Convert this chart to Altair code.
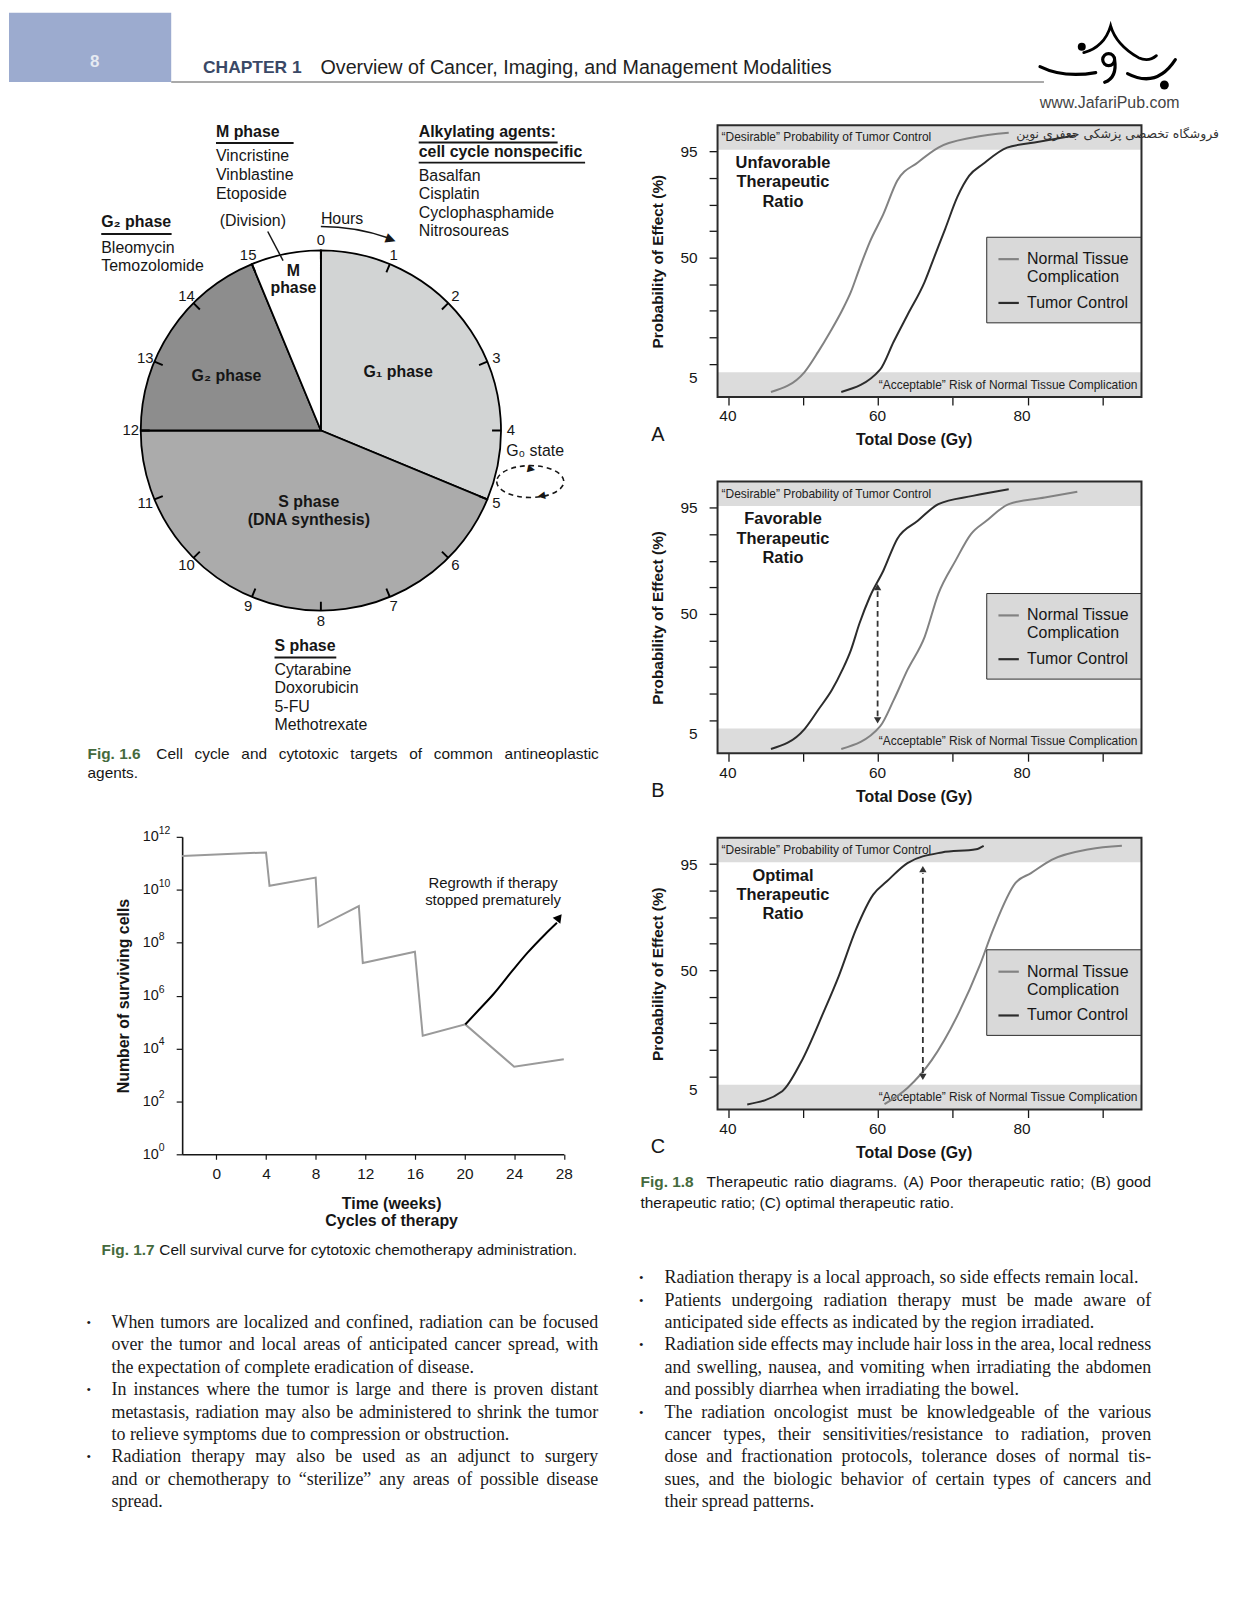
import math
import altair as alt
import pandas as pd

SANS = "Liberation Sans"
SERIF = "Liberation Serif"
INK = "#161616"
GREEN = "#456a3d"

# ------------------------------------------------------------------ data
# Fig 1.6 cell cycle (hours of a 16 h cycle)
phase_names = ["G₁ phase", "S phase", "G₂ phase", "M phase"]
phase_start = [0, 5, 12, 15]
phase_end = [5, 12, 15, 16]
hour_marks = list(range(16))
m_drugs = ["Vincristine", "Vinblastine", "Etoposide"]
alk_drugs = ["Basalfan", "Cisplatin", "Cyclophasphamide", "Nitrosoureas"]
g2_drugs = ["Bleomycin", "Temozolomide"]
s_drugs = ["Cytarabine", "Doxorubicin", "5-FU", "Methotrexate"]

# Fig 1.7 cell survival (weeks, log10 of surviving cells)
week_pts = [-2.76, 4.0, 4.28, 8.0, 8.22, 11.48, 11.8, 16.0, 16.63, 20.06, 24.0, 28.0]
log_cells = [11.28, 11.41, 10.15, 10.46, 8.6, 9.38, 7.23, 7.66, 4.48, 4.91, 3.31, 3.59]
regrow_weeks = [20.06, 21.24, 22.34, 23.86, 25.1, 26.48, 27.45]
regrow_log = [4.91, 5.5, 6.06, 6.94, 7.63, 8.31, 8.75]
week_ticks = [0, 4, 8, 12, 16, 20, 24, 28]
decade_ticks = [0, 2, 4, 6, 8, 10, 12]

# Fig 1.8 therapeutic ratio (dose in Gy, effect level on the probit-like axis: 9 = 95 %, 5 = 50 %, 0.5 = 5 %)
dose_ticks = [40, 50, 60, 70, 80, 90]
level_ticks = [0.5, 1, 2, 3, 4, 5, 6, 7, 8, 9]
series_names = ["Normal Tissue Complication", "Tumor Control"]

a_normal_dose = [45.69, 50.18, 52.02, 53.62, 55.23, 56.38, 57.52, 58.90, 60.73, 62.57, 65.32, 68.07, 72.66, 77.48]
a_normal_lvl = [-0.06, 0.69, 1.46, 2.21, 3.03, 3.71, 4.59, 5.59, 6.65, 7.9, 8.59, 9.15, 9.53, 9.71]
a_tumor_dose = [55.09, 60.28, 62.11, 63.94, 66.24, 67.61, 68.99, 70.60, 72.20, 74.04, 77.25, 80.92, 86.42]
a_tumor_lvl = [-0.06, 0.78, 1.84, 2.84, 4.09, 5.09, 6.09, 7.28, 8.09, 8.53, 9.15, 9.34, 9.61]

b_tumor_dose = [45.69, 50.18, 52.02, 53.85, 55.23, 56.38, 57.52, 58.90, 60.73, 62.57, 65.32, 68.07, 72.66, 77.48]
b_tumor_lvl = [-0.09, 0.66, 1.39, 2.14, 2.89, 3.64, 4.64, 5.64, 6.64, 7.83, 8.51, 9.14, 9.45, 9.7]
b_normal_dose = [55.09, 60.28, 62.11, 63.94, 66.24, 68.07, 70.37, 72.43, 74.50, 77.48, 82.29, 86.65]
b_normal_lvl = [-0.09, 0.76, 1.76, 2.89, 4.14, 5.76, 7.01, 8.01, 8.51, 9.14, 9.39, 9.61]
b_arrow = [59.95, 0.99, 6.01]

c_tumor_dose = [42.52, 47.20, 49.72, 52.71, 54.77, 57.06, 59.36, 61.19, 63.94, 68.53, 73.12, 74.13]
c_tumor_lvl = [-0.06, 0.44, 1.54, 3.41, 4.79, 6.54, 7.85, 8.35, 9.04, 9.44, 9.56, 9.69]
c_normal_dose = [60.87, 63.94, 67.16, 70.83, 73.58, 75.41, 78.39, 80.46, 83.21, 88.26, 92.61]
c_normal_lvl = [-0.05, 0.56, 1.6, 3.41, 5.16, 6.54, 8.29, 8.66, 9.16, 9.56, 9.69]
c_arrow = [66.0, 0.98, 8.81]

band_lo = [9.07, -0.25]
band_hi = [9.99, 0.68]

# body text (text, bullet?, justified?)
left_lines = [
    ("When tumors are localized and confined, radiation can be focused", True, True),
    ("over the tumor and local areas of anticipated cancer spread, with", False, True),
    ("the expectation of complete eradication of disease.", False, False),
    ("In instances where the tumor is large and there is proven distant", True, True),
    ("metastasis, radiation may also be administered to shrink the tumor", False, True),
    ("to relieve symptoms due to compression or obstruction.", False, False),
    ("Radiation therapy may also be used as an adjunct to surgery", True, True),
    ("and or chemotherapy to “sterilize” any areas of possible disease", False, True),
    ("spread.", False, False),
]
right_lines = [
    ("Radiation therapy is a local approach, so side effects remain local.", True, False),
    ("Patients undergoing radiation therapy must be made aware of", True, True),
    ("anticipated side effects as indicated by the region irradiated.", False, False),
    ("Radiation side effects may include hair loss in the area, local redness", True, True),
    ("and swelling, nausea, and vomiting when irradiating the abdomen", False, True),
    ("and possibly diarrhea when irradiating the bowel.", False, False),
    ("The radiation oncologist must be knowledgeable of the various", True, True),
    ("cancer types, their sensitivities/resistance to radiation, proven", False, True),
    ("dose and fractionation protocols, tolerance doses of normal tis-", False, True),
    ("sues, and the biologic behavior of certain types of cancers and", False, True),
    ("their spread patterns.", False, False),
]

# ------------------------------------------------------------------ helpers
ONE = pd.DataFrame({"k": [0]})

ARIAL = dict(zip(" abcdefghijklmnopqrstuvwxyz", [278, 556, 556, 500, 556, 556, 278, 556, 556, 222, 222, 500, 222, 833,
                                                  556, 556, 556, 556, 333, 500, 278, 556, 500, 722, 500, 500, 500]))
ARIAL.update(dict(zip("ABCDEFGHIJKLMNOPQRSTUVWXYZ", [667, 667, 722, 722, 667, 611, 778, 722, 278, 500, 667, 556, 833,
                                                       722, 778, 667, 778, 722, 667, 611, 722, 667, 944, 667, 667, 611])))
ARIAL.update({c: 556 for c in "0123456789"})
ARIAL.update({".": 278, ",": 278, ";": 278, ":": 278, "(": 333, ")": 333, "-": 333, "/": 278, "“": 333, "”": 333})
TIMES = dict(zip(" abcdefghijklmnopqrstuvwxyz", [250, 444, 500, 444, 500, 444, 333, 500, 500, 278, 278, 500, 278, 778,
                                                  500, 500, 500, 500, 333, 389, 278, 500, 500, 722, 500, 500, 444]))
TIMES.update(dict(zip("ABCDEFGHIJKLMNOPQRSTUVWXYZ", [722, 667, 667, 722, 611, 556, 722, 722, 333, 389, 722, 611, 889,
                                                       722, 722, 556, 722, 667, 556, 611, 722, 722, 944, 722, 722, 611])))
TIMES.update({c: 500 for c in "0123456789"})
TIMES.update({".": 250, ",": 250, ";": 278, ":": 278, "(": 333, ")": 333, "-": 333, "/": 278, "“": 444, "”": 444})


def txt(s, x, y, size=16, weight="normal", align="left", color=INK, font=SANS, angle=None, lh=None):
    props = dict(text=s, align=align, baseline="middle", fontSize=size, fontWeight=weight, color=color, font=font)
    if angle is not None:
        props["angle"] = angle
    if lh is not None:
        props["lineHeight"] = lh
    return alt.Chart(ONE).mark_text(**props).encode(x=alt.value(x), y=alt.value(y))


def seg(x1, y1, x2, y2, w=1.5, color=INK):
    return alt.Chart(ONE).mark_rule(color=color, strokeWidth=w).encode(
        x=alt.value(x1), y=alt.value(y1), x2=alt.value(x2), y2=alt.value(y2))


def pin(x1, x2, y1, y2):
    # invisible frame that fixes the bounding box of a cell of the page
    return alt.Chart(ONE).mark_rect(opacity=0).encode(
        x=alt.value(x1), x2=alt.value(x2), y=alt.value(y1), y2=alt.value(y2))


def glyph(path, x, y, size, width=2.6, filled=False):
    if filled:
        return alt.Chart(ONE).mark_point(shape=path, size=size, filled=True, color="black", opacity=1).encode(
            x=alt.value(x), y=alt.value(y))
    return alt.Chart(ONE).mark_point(shape=path, size=size, filled=False, color="black", opacity=1,
                                     strokeWidth=width, strokeCap="round").encode(x=alt.value(x), y=alt.value(y))


def words_table(lines, x0, x1, ys, size, widths, bullet_x=None, bullet_size=12):
    rows = []
    sp = widths[" "] * size / 1000.0
    for (text, bullet, just), y in zip(lines, ys):
        if bullet and bullet_x is not None:
            rows.append({"w": "•", "px": bullet_x, "py": y, "fs": bullet_size, "al": "left"})
        words = text.split(" ")
        if just and len(words) > 1:
            n = len(words)
            ws = [sum(widths.get(c, 520) for c in w) * size / 1000.0 for w in words]
            avail = x1 - x0
            fs = size
            gap = (avail - sum(ws)) / (n - 1)
            if gap < 0.6 * sp:
                k = (avail - 0.6 * sp * (n - 1)) / sum(ws)
                fs = size * k
                ws = [v * k for v in ws]
                gap = 0.6 * sp
            x = x0
            for i, (w, wd) in enumerate(zip(words, ws)):
                if i == n - 1:
                    rows.append({"w": w, "px": x1, "py": y, "fs": fs, "al": "right"})
                else:
                    rows.append({"w": w, "px": x, "py": y, "fs": fs, "al": "left"})
                x += wd + gap
        else:
            rows.append({"w": text, "px": x0, "py": y, "fs": size, "al": "left"})
    return pd.DataFrame(rows)


def words_layers(df, font, color=INK):
    out = []
    for al in ["left", "right"]:
        sub = df[df["al"] == al]
        if len(sub):
            out.append(alt.Chart(sub).mark_text(align=al, baseline="middle", font=font, color=color).encode(
                x=alt.X("px:Q", scale=None, axis=None),
                y=alt.Y("py:Q", scale=None, axis=None),
                text="w:N",
                size=alt.Size("fs:Q", scale=None, legend=None)))
    return out


# ------------------------------------------------------------------ header (page y 12 .. 122)
LOGO_ARCH = "M -0.625 -0.125 C -0.3 -0.2 -0.05 -0.45 0.05 -0.8 C 0.15 -0.45 0.4 -0.2 0.75 0 Q 1.0 0.12 1.2 -0.05"
LOGO_LOW = ("M -1.725 0.225 Q -1.125 0.52 -0.325 0.375 "
            "M 0.475 0.4 Q 1.2 0.78 1.675 0.05 "
            "M -0.15 0.05 A 0.15 0.15 0 1 0 0.15 0.05 A 0.15 0.15 0 1 0 -0.15 0.05 "
            "M 0.15 0.05 Q 0.22 0.5 -0.1 0.62")

header = alt.layer(
    pin(0, 1234, 0, 110),
    alt.Chart(ONE).mark_rect(color="#9cabcf").encode(
        x=alt.value(0), x2=alt.value(163), y=alt.value(0), y2=alt.value(69.6)),
    txt("8", 86, 49.5, size=17, weight="bold", align="center", color="#e6eaf2"),
    txt("CHAPTER 1", 195, 55.3, size=17.5, weight="bold", color="#3a4866"),
    txt("Overview of Cancer, Imaging, and Management Modalities", 313, 55.3, size=19.8, color="#1e1e1e"),
    seg(163, 69.6, 1040, 69.6, w=1.5, color="#8c8c8c"),
    glyph(LOGO_ARCH, 1105, 45, 6400, width=2.8),
    glyph(LOGO_LOW, 1105, 45, 6400, width=3.2),
    glyph("circle", 1078, 34, 64, filled=True),
    glyph("circle", 1161, 72.5, 79, filled=True),
    txt("www.JafariPub.com", 1106, 91, size=16, align="center", color="#444444"),
).properties(width=1234, height=110)

# ------------------------------------------------------------------ Fig 1.6 pie (view origin page (8, 122))
CX, CY, R = 313.4, 306.7, 181
hour_scale = alt.Scale(domain=[0, 16], range=[0, 2 * math.pi])
phase_df = pd.DataFrame({"phase": phase_names, "start": phase_start, "end": phase_end})
hour_df = pd.DataFrame({"h": hour_marks})

arcs = alt.Chart(phase_df).mark_arc(stroke="black", strokeWidth=1.8).encode(
    theta=alt.Theta("start:Q", scale=hour_scale, stack=False),
    theta2="end:Q",
    fill=alt.Fill("phase:N", scale=alt.Scale(domain=phase_names,
                                             range=["#d2d4d4", "#ababab", "#8d8d8d", "#ffffff"]), legend=None),
    x=alt.value(CX), y=alt.value(CY), radius=alt.value(R))

ticks = alt.Chart(hour_df).transform_calculate(a="datum.h - 0.014", b="datum.h + 0.014").mark_arc(
    color="black").encode(
    theta=alt.Theta("a:Q", scale=hour_scale, stack=False), theta2="b:Q",
    x=alt.value(CX), y=alt.value(CY), radius=alt.value(R), radius2=alt.value(R - 9))

hour_lbl = alt.Chart(hour_df).mark_text(fontSize=15, font=SANS, color=INK, baseline="middle",
                                        align="center").encode(
    theta=alt.Theta("h:Q", scale=hour_scale, stack=False), radius=alt.value(191),
    text=alt.Text("h:Q", format="d"), x=alt.value(CX), y=alt.value(CY))

hours_arc = alt.Chart(pd.DataFrame({"a": [0.0], "b": [0.86]})).mark_arc(color=INK).encode(
    theta=alt.Theta("a:Q", scale=hour_scale, stack=False), theta2="b:Q",
    x=alt.value(CX), y=alt.value(CY), radius=alt.value(205.8), radius2=alt.value(204.3))
hours_head = alt.Chart(pd.DataFrame({"h": [0.9]})).mark_text(
    text="▶", fontSize=13, angle=20, color=INK, align="center", baseline="middle").encode(
    theta=alt.Theta("h:Q", scale=hour_scale, stack=False), radius=alt.value(205),
    x=alt.value(CX), y=alt.value(CY))

g0_loop = alt.Chart(ONE).mark_point(
    shape="M -1 0 A 1 0.475 0 1 0 1 0 A 1 0.475 0 1 0 -1 0 Z", size=4543, filled=False,
    strokeDash=[5, 4], strokeWidth=1.6, color=INK, opacity=1).encode(x=alt.value(523.8), y=alt.value(358))

pie_layers = [pin(0, 615, 0, 668), g0_loop, arcs, ticks, hour_lbl, hours_arc, hours_head,
              txt("▶", 521, 344.5, size=10, angle=12),
              txt("◀", 531, 372.5, size=10, angle=350)]

pie_layers += [txt("M phase", 208, 6.7, weight="bold"), seg(208, 17.7, 286, 17.7, w=2)]
pie_layers += [txt(d, 208, y) for d, y in zip(m_drugs, [31, 50, 68.7])]
pie_layers += [txt("(Division)", 211.7, 96), seg(260, 106.7, 275.4, 136, w=1.5),
               txt("Hours", 313.4, 94.3)]
pie_layers += [txt("Alkylating agents:", 411.7, 6.5, weight="bold"), seg(411.7, 17.2, 551.3, 17.2, w=2),
               txt("cell cycle nonspecific", 411.7, 26.5, weight="bold"), seg(411.7, 37.5, 578.9, 37.5, w=2)]
pie_layers += [txt(d, 411.7, y) for d, y in zip(alk_drugs, [50.5, 69.5, 88, 106.5])]
pie_layers += [txt("G₂ phase", 92.7, 97.5, weight="bold"), seg(92.7, 109.2, 163.4, 109.2, w=2)]
pie_layers += [txt(d, 92.7, y) for d, y in zip(g2_drugs, [123.2, 141.5])]
pie_layers += [txt("M", 285.8, 146, weight="bold", align="center"),
               txt("phase", 285.8, 163.7, weight="bold", align="center"),
               txt("G₂ phase", 218.6, 251.7, weight="bold", align="center"),
               txt("G₁ phase", 391, 247.7, weight="bold", align="center"),
               txt("S phase", 301.3, 378.7, weight="bold", align="center"),
               txt("(DNA synthesis)", 301.3, 396.7, weight="bold", align="center"),
               txt("G₀ state", 499.6, 327.7)]
pie_layers += [txt("S phase", 266.8, 523.7, weight="bold"), seg(266.8, 534.7, 328.9, 534.7, w=2)]
pie_layers += [txt(d, 266.8, y) for d, y in zip(s_drugs, [547.3, 565.7, 584.7, 603])]
pie_layers += [txt("Fig. 1.6", 78.9, 631.3, size=15.5, weight="bold", color=GREEN),
               txt("agents.", 78.9, 651.3, size=15.5)]
pie_layers += words_layers(words_table(
    [("Cell cycle and cytotoxic targets of common antineoplastic", False, True)],
    148, 592.7, [631.3], 15.5, ARIAL), SANS)
pie_chart = alt.layer(*pie_layers).properties(width=615, height=668)

# ------------------------------------------------------------------ Fig 1.7 survival (view origin page (180, 835))
surv_df = pd.DataFrame({"week": week_pts, "cells": [10.0 ** e for e in log_cells]})
regrow_df = pd.DataFrame({"week": regrow_weeks, "cells": [10.0 ** e for e in regrow_log]})
sup_df = pd.DataFrame({"cells": [10.0 ** d for d in decade_ticks], "exp": [str(d) for d in decade_ticks]})
sx_scale = alt.Scale(domain=[-2.76, 28], nice=False, zero=False)
sy_scale = alt.Scale(type="log", domain=[1, 1e12], nice=False)
sx_axis = alt.Axis(values=week_ticks, tickSize=5, tickWidth=1.2, labelFontSize=15.5, labelPadding=7,
                   domainWidth=1.6, title=["Time (weeks)", "Cycles of therapy"], titleFontSize=16,
                   titleFontWeight="bold", titleX=210, titleY=41, titleBaseline="top", titleLineHeight=18,
                   titleAlign="center")
sy_axis = alt.Axis(values=[10.0 ** d for d in decade_ticks], labelExpr="'10'",
                   tickSize=6, tickWidth=1.2, labelFontSize=14.5, labelPadding=18, domainWidth=1.6,
                   title="Number of surviving cells", titleFontSize=16, titleFontWeight="bold",
                   titleX=-59, titleY=159.5, titleAngle=270, titleAlign="center", titleBaseline="middle")
SX = alt.X("week:Q", scale=sx_scale, axis=sx_axis)
SY = alt.Y("cells:Q", scale=sy_scale, axis=sy_axis)

surv_chart = alt.layer(
    pin(-171, 443, -45, 435),
    alt.Chart(surv_df).mark_line(color="#9a9a9a", strokeWidth=2).encode(x=SX, y=SY),
    alt.Chart(regrow_df).mark_line(color="black", strokeWidth=2, interpolate="monotone").encode(x=SX, y=SY),
    alt.Chart(pd.DataFrame({"week": [27.62], "cells": [10.0 ** 8.95]})).mark_point(
        shape="triangle-up", filled=True, size=95, angle=38, color="black", opacity=1).encode(x=SX, y=SY),
    alt.Chart(pd.DataFrame({"week": [22.3], "cells": [10.0 ** 10.27]})).mark_text(
        text=["Regrowth if therapy", "stopped prematurely"], fontSize=15, lineHeight=18, font=SANS,
        color=INK, align="center", baseline="middle").encode(x=SX, y=SY),
    alt.Chart(sup_df).mark_text(fontSize=10.5, font=SANS, color=INK, align="left", baseline="middle",
                                dy=-6).encode(x=alt.value(-23.5), y=SY, text="exp:N"),
    txt("Fig. 1.7", -81, 415, size=15.5, weight="bold", color=GREEN),
    txt("Cell survival curve for cytotoxic chemotherapy administration.", -23, 415, size=15.5),
).properties(width=383.5, height=319)

spacer = alt.Chart(ONE).mark_rect(opacity=0).encode(
    x=alt.value(0), x2=alt.value(1), y=alt.value(0), y2=alt.value(1)).properties(width=1, height=1)
surv_row = alt.hconcat(spacer, surv_chart, spacing=0)

# ------------------------------------------------------------------ left body text (view origin page (8, 1270))
text_left = alt.layer(
    pin(0, 615, 0, 322),
    *words_layers(words_table(left_lines, 103, 592, [51.5 + 22.5 * i for i in range(9)],
                              18, TIMES, bullet_x=78, bullet_size=13), SERIF, "#1a1a1a"),
).properties(width=615, height=322)

# ------------------------------------------------------------------ Fig 1.8 panels (view origin page x 716)
PW, PH = 426, 273
dose_scale = alt.Scale(domain=[38.55, 95.23], nice=False, zero=False)
lvl_scale = alt.Scale(domain=[-0.25, 9.99], nice=False, zero=False)
p_xaxis = alt.Axis(values=dose_ticks, labelExpr="datum.value % 20 == 0 ? datum.label : ''",
                   labelOffset={"condition": {"test": "datum.value == 80", "value": -6}, "value": -1},
                   tickSize=8, tickWidth=1.3, labelFontSize=15.5, labelPadding=4, domain=False,
                   title="Total Dose (Gy)", titleFontSize=16, titleFontWeight="bold", titleX=197, titleY=43,
                   titleBaseline="middle", titleAlign="center")
p_yaxis = alt.Axis(values=level_ticks,
                   labelExpr="datum.value == 9 ? '95' : datum.value == 5 ? '50' : datum.value == 0.5 ? '5' : ''",
                   tickOpacity={"condition": {"test": "datum.value == 0.5", "value": 0}, "value": 1},
                   tickSize=8.5, tickWidth=1.3, labelPadding=12, labelFontSize=15.5, domain=False,
                   title="Probability of Effect (%)", titleFontSize=15.5, titleFontWeight="bold",
                   titleX=-60, titleY=136.5, titleAngle=270, titleAlign="center", titleBaseline="middle")


def PX(f):
    return alt.X(f + ":Q", scale=dose_scale, axis=p_xaxis)


def PY(f):
    return alt.Y(f + ":Q", scale=lvl_scale, axis=p_yaxis)


def panel(normal_d, normal_l, tumor_d, tumor_l, ratio_lines, letter, pin_top, pin_bottom,
          arrow=None, watermark=False):
    rows = []
    for name, ds, ls in [(series_names[0], normal_d, normal_l), (series_names[1], tumor_d, tumor_l)]:
        for i, (d, l) in enumerate(zip(ds, ls)):
            rows.append({"dose": d, "lvl": l, "series": name, "i": i})
    cdf = pd.DataFrame(rows)
    legend = alt.Legend(title=None, orient="none", legendX=270, legendY=112, fillColor="#d9d9d9",
                        strokeColor="#2b2b2b", padding=11, symbolType="stroke", symbolSize=420,
                        symbolStrokeWidth=2.2, labelFontSize=16, labelFont=SANS, labelColor=INK,
                        labelOffset=7, rowPadding=6, labelLimit=240,
                        labelExpr="datum.label == 'Normal Tissue Complication' ? "
                                  "['Normal Tissue', 'Complication'] : datum.label")
    layers = [
        pin(-93, 526, pin_top, pin_bottom),
        alt.Chart(pd.DataFrame({"lo": band_lo, "hi": band_hi})).mark_rect(color="#dcdcdc").encode(
            x=alt.value(0), x2=alt.value(PW), y=PY("lo"), y2=alt.Y2("hi:Q")),
        alt.Chart(ONE).mark_rect(fill="transparent", stroke="#2b2b2b", strokeWidth=2).encode(
            x=alt.value(0), x2=alt.value(PW), y=alt.value(0), y2=alt.value(PH)),
        alt.Chart(pd.DataFrame({"lvl": [9.53]})).mark_text(
            text="“Desirable” Probability of Tumor Control", fontSize=12, font=SANS, color="#222",
            align="left", baseline="middle").encode(x=alt.value(4), y=PY("lvl")),
        alt.Chart(pd.DataFrame({"lvl": [0.21]})).mark_text(
            text="“Acceptable” Risk of Normal Tissue Complication", fontSize=12, font=SANS, color="#222",
            align="right", baseline="middle").encode(x=alt.value(PW - 4), y=PY("lvl")),
        alt.Chart(pd.DataFrame({"dose": [47.3], "lvl": [8.565]})).mark_text(
            text=ratio_lines, fontSize=16.5, fontWeight="bold", font=SANS, color=INK, lineHeight=19.5,
            align="center", baseline="middle").encode(x=PX("dose"), y=PY("lvl")),
        alt.Chart(cdf).mark_line(strokeWidth=2, interpolate="monotone").encode(
            x=PX("dose"), y=PY("lvl"),
            color=alt.Color("series:N", scale=alt.Scale(domain=series_names, range=["#828282", "#2c2c2c"]),
                            legend=legend),
            order="i:Q"),
        txt(letter, -60, 311, size=20, align="center"),
    ]
    if arrow is not None:
        x, lo, hi = arrow
        layers += [
            alt.Chart(pd.DataFrame({"dose": [x], "lvl": [lo + 0.15], "lvl2": [hi - 0.15]})).mark_rule(
                strokeDash=[6, 4], strokeWidth=1.8, color="#333").encode(
                x=PX("dose"), y=PY("lvl"), y2=alt.Y2("lvl2:Q")),
            alt.Chart(pd.DataFrame({"dose": [x], "lvl": [hi]})).mark_point(
                shape="triangle-up", filled=True, size=55, color="#333", opacity=1).encode(x=PX("dose"), y=PY("lvl")),
            alt.Chart(pd.DataFrame({"dose": [x], "lvl": [lo]})).mark_point(
                shape="triangle-down", filled=True, size=55, color="#333", opacity=1).encode(x=PX("dose"), y=PY("lvl")),
        ]
    if watermark:
        layers.append(txt("فروشگاه تخصصی پزشکی جعفری نوین", 402, 8.5, size=12.5, align="center",
                          font="DejaVu Sans", color="#333"))
    return alt.layer(*layers).properties(width=PW, height=PH)


panel_a = panel(a_normal_dose, a_normal_lvl, a_tumor_dose, a_tumor_lvl,
                ["Unfavorable", "Therapeutic", "Ratio"], "A", 0, 343, watermark=True)
panel_b = panel(b_normal_dose, b_normal_lvl, b_tumor_dose, b_tumor_lvl,
                ["Favorable", "Therapeutic", "Ratio"], "B", -13, 340, arrow=b_arrow)
panel_c = panel(c_normal_dose, c_normal_lvl, c_tumor_dose, c_tumor_lvl,
                ["Optimal", "Therapeutic", "Ratio"], "C", -16, 327, arrow=c_arrow)

cap18 = alt.layer(
    pin(-93, 526, 0, 75),
    txt("Fig. 1.8", -77.4, 16.7, size=15.5, weight="bold", color=GREEN),
    *words_layers(words_table(
        [("Therapeutic ratio diagrams. (A) Poor therapeutic ratio; (B) good", False, True)],
        -11, 435.7, [16.7], 15.5, ARIAL), SANS),
    txt("therapeutic ratio; (C) optimal therapeutic ratio.", -77.4, 38.3, size=15.5),
).properties(width=PW, height=75)

text_right = alt.layer(
    pin(-93, 526, 0, 356),
    *words_layers(words_table(right_lines, -53.3, 435.7, [36.5 + 22.5 * i for i in range(11)],
                              18, TIMES, bullet_x=-79, bullet_size=13), SERIF, "#1a1a1a"),
).properties(width=PW, height=356)

# ------------------------------------------------------------------ page assembly
left_col = alt.vconcat(pie_chart, surv_row, text_left, spacing=0)
right_col = alt.vconcat(panel_a, panel_b, panel_c, cap18, text_right, spacing=0).resolve_scale(
    color="independent").resolve_legend(color="independent")
body = alt.hconcat(left_col, right_col, spacing=0).resolve_scale(color="independent").resolve_legend(
    color="independent")

chart = alt.vconcat(header, body, spacing=0).resolve_scale(color="independent").resolve_legend(
    color="independent").properties(padding=0, background="white").configure_view(
    stroke="transparent").configure_axis(
    grid=False, labelFlush=False, labelOverlap=False, domainColor=INK, tickColor=INK, labelColor=INK,
    titleColor=INK, labelFont=SANS, titleFont=SANS)

chart.save("out.html", embed_options={"renderer": "svg", "actions": False})
